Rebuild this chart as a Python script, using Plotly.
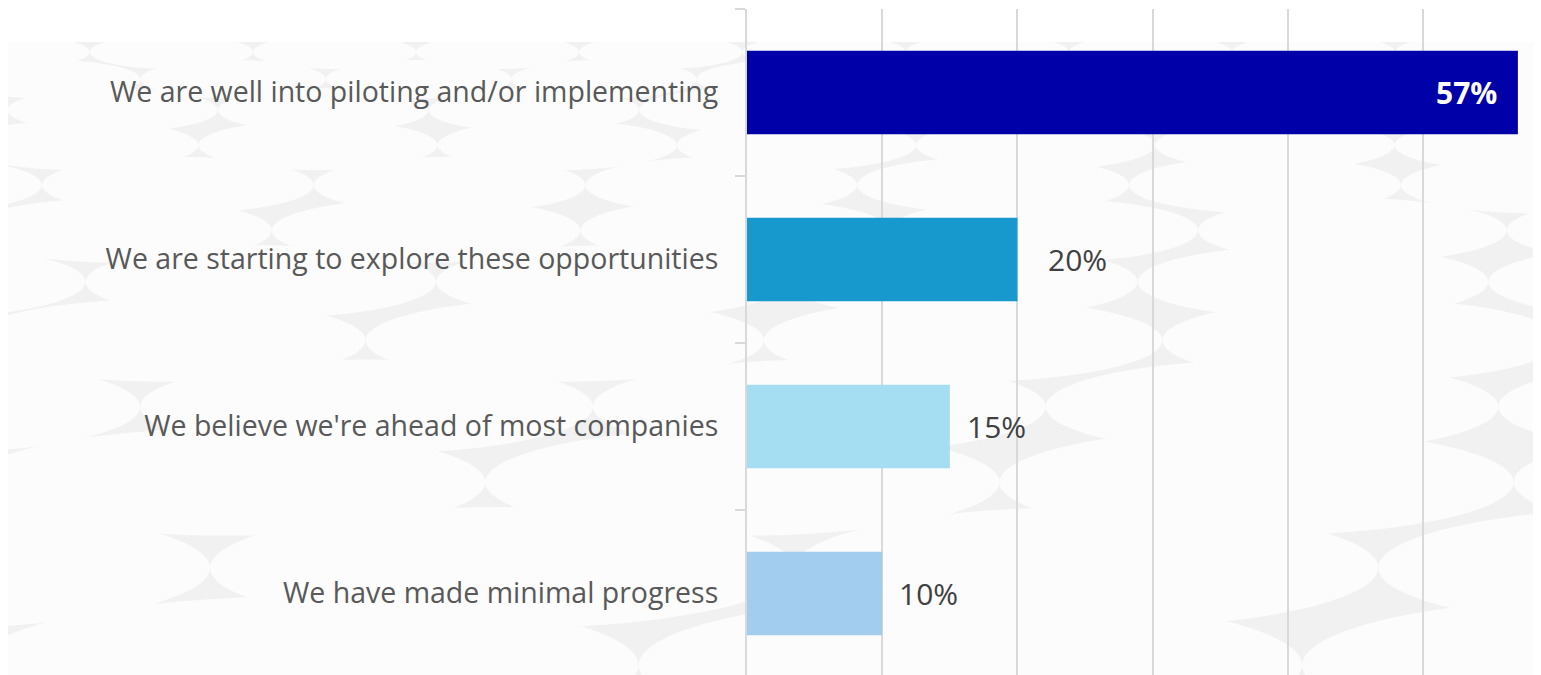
import plotly.graph_objects as go

categories = [
    "We are well into piloting and/or implementing",
    "We are starting to explore these opportunities",
    "We believe we're ahead of most companies",
    "We have made minimal progress",
]
values = [57, 20, 15, 10]
labels = ["57%", "20%", "15%", "10%"]
colors = ["#0000A8", "#1899CD", "#A5DEF3", "#A3CDEE"]
label_inside = [True, False, False, False]

# label offsets (px) from bar end, matching the reference layout
label_gap = [-19, 29, 15, 15]

W, H = 1541, 675
L, T, B = 739, 1, 6
PW, PH = W - L, H - T - B

fig = go.Figure()
fig.add_trace(go.Bar(
    y=categories, x=values, orientation="h",
    marker=dict(color=colors, line=dict(width=0)),
    hoverinfo="skip",
))

annotations = []
for c, v, t, inside, g in zip(categories, values, labels, label_inside, label_gap):
    if inside:
        annotations.append(dict(x=v, y=c, xref="x", yref="y", text="<b>" + t + "</b>",
                                xanchor="right", xshift=g, showarrow=False,
                                font=dict(family="Open Sans", size=30, color="white")))
    else:
        annotations.append(dict(x=v, y=c, xref="x", yref="y", text=t,
                                xanchor="left", xshift=g, showarrow=False,
                                font=dict(family="Open Sans", size=30, color="#404040")))


def px_x(p):
    return (p - L) / PW


def px_y(p):
    return (H - B - p) / PH


# decorative background: grey field with pale ovals
shapes = [dict(type="rect", xref="paper", yref="paper", layer="below",
               x0=px_x(0), x1=px_x(W), y0=px_y(H), y1=px_y(34),
               fillcolor="#f1f1f1", line=dict(width=0))]
y = 44.0
r = 0
while y < H + 150:
    h = 34 + (y - 44) * 0.17
    w = h * 4.8
    step = w * 1.0
    off = (r % 2) * step / 2 - (r * 53) % 110
    x = -w + off
    while x < W + w:
        shapes.append(dict(type="circle", xref="paper", yref="paper", layer="below",
                           x0=px_x(x - w / 2), x1=px_x(x + w / 2),
                           y0=px_y(y + h / 2), y1=px_y(y - h / 2),
                           fillcolor="#fcfcfc", line=dict(width=0)))
        x += step
    y += h * 0.8
    r += 1
shapes.append(dict(type="rect", xref="paper", yref="paper", layer="below",
                   x0=px_x(0), x1=px_x(W), y0=px_y(34), y1=px_y(-10),
                   fillcolor="white", line=dict(width=0)))

fig.update_layout(
    width=W, height=H,
    margin=dict(l=L, r=0, t=T, b=B),
    paper_bgcolor="white", plot_bgcolor="rgba(0,0,0,0)",
    bargap=0.5, showlegend=False,
    annotations=annotations, shapes=shapes,
    xaxis=dict(range=[0, 59.3], dtick=10, showgrid=True, gridcolor="#d9d9d9", gridwidth=2,
               showticklabels=False, zeroline=False, showline=False, fixedrange=True),
    yaxis=dict(autorange="reversed", showgrid=False, showline=True, linecolor="#d9d9d9", linewidth=2,
               ticks="outside", tickson="boundaries", ticklen=10, tickcolor="#d9d9d9", tickwidth=2,
               ticklabelstandoff=21,
               tickfont=dict(family="Open Sans", size=28.5, color="#595959"), fixedrange=True),
)

fig.write_html("out.html")
